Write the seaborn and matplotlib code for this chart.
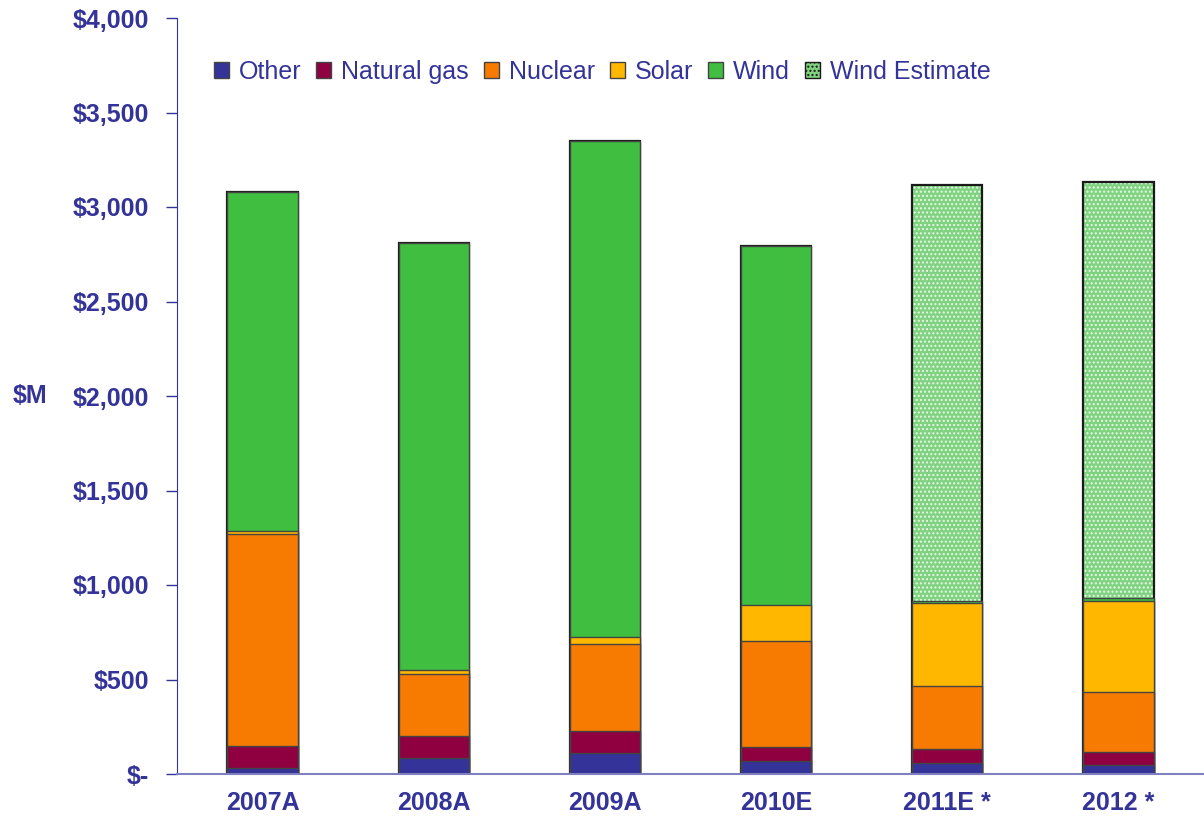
import numpy as np
import pandas as pd
import seaborn as sns
import matplotlib.pyplot as plt
from matplotlib.patches import Patch

years = ["2007A", "2008A", "2009A", "2010E", "2011E *", "2012 *"]
other = [32, 85, 111, 69, 58, 45]
natural_gas = [116, 116, 117, 74, 74, 71]
nuclear = [1122, 328, 460, 561, 334, 318]
solar = [16, 21, 37, 190, 439, 481]
wind = [1793, 2260, 2624, 1900, 10, 16]
wind_estimate = [0, 0, 0, 0, 2201, 2201]

navy = "#333399"
colors = {
    "Other": "#333399",
    "Natural gas": "#8E0040",
    "Nuclear": "#F77B00",
    "Solar": "#FFB700",
    "Wind": "#3FBE3F",
}

sns.set_style("white")
plt.rcParams["font.family"] = ["Liberation Sans", "DejaVu Sans"]

data = pd.DataFrame({
    "year": years,
    "Other": other,
    "Natural gas": natural_gas,
    "Nuclear": nuclear,
    "Solar": solar,
    "Wind": wind,
    "Wind Estimate": wind_estimate,
})
layers = ["Other", "Natural gas", "Nuclear", "Solar", "Wind", "Wind Estimate"]
cum = data[layers].cumsum(axis=1)

fig = plt.figure(figsize=(12.04, 8.26), dpi=100)
ax = fig.add_axes([177 / 1204, 52 / 826, 1 - 177 / 1204, 756 / 826])

w = 0.41
# estimate layer: dotted light green, then outline
sns.barplot(x=data["year"], y=cum["Wind Estimate"], color="#7FD27F", saturation=1,
            width=w, edgecolor="#E8F8E8", linewidth=0, hatch="....", ax=ax)
sns.barplot(x=data["year"], y=cum["Wind Estimate"], fill=False, color="#1A1A1A",
            width=w, linewidth=1.6, ax=ax)
# solid layers, tallest first
for name in ["Wind", "Solar", "Nuclear", "Natural gas", "Other"]:
    sns.barplot(x=data["year"], y=cum[name], color=colors[name], saturation=1,
                width=w, edgecolor="#444444", linewidth=1.0, ax=ax)

ax.set_ylim(0, 4000)
ax.set_xlim(-0.5, 5.4)
yt = np.arange(0, 4001, 500)
ax.set_yticks(yt)
ax.set_yticklabels(["$-" if v == 0 else f"${v:,}" for v in yt])
ax.set_xticks(range(len(years)))
ax.set_xticklabels(years)
ax.set_xticks(np.arange(-0.5, 5.6, 1), minor=True)
ax.tick_params(axis="x", which="major", length=0, pad=12)
ax.tick_params(axis="x", which="minor", length=9, color=navy, width=1)
ax.tick_params(axis="y", length=8, color=navy, width=1, left=True, pad=12)
for lbl in ax.get_xticklabels() + ax.get_yticklabels():
    lbl.set_fontweight("bold")
    lbl.set_fontsize(18)
    lbl.set_color(navy)
ax.set_xlabel("")
ax.set_ylabel("$M", rotation=0, fontsize=18, fontweight="bold", color=navy,
              va="center", ha="center")
ax.yaxis.set_label_coords(-0.143, 0.5)

sns.despine(ax=ax, top=True, right=True)
ax.spines["left"].set_color(navy)
ax.spines["bottom"].set_color("#8080C0")
ax.spines["bottom"].set_linewidth(1.5)

handles = [Patch(facecolor=colors[n], edgecolor="#444444", label=n) for n in colors]
handles.append(Patch(facecolor="#7FD27F", edgecolor="#1A1A1A", hatch="....", label="Wind Estimate"))
leg = ax.legend(handles=handles, loc="center left", bbox_to_anchor=(196 / 1204, 1 - 72 / 826),
                bbox_transform=fig.transFigure, ncol=6, frameon=False, fontsize=18,
                handlelength=0.6, handleheight=0.6, handletextpad=0.4, columnspacing=0.6,
                borderpad=0.2)
for t in leg.get_texts():
    t.set_color(navy)

plt.savefig("out.png", dpi=100)
